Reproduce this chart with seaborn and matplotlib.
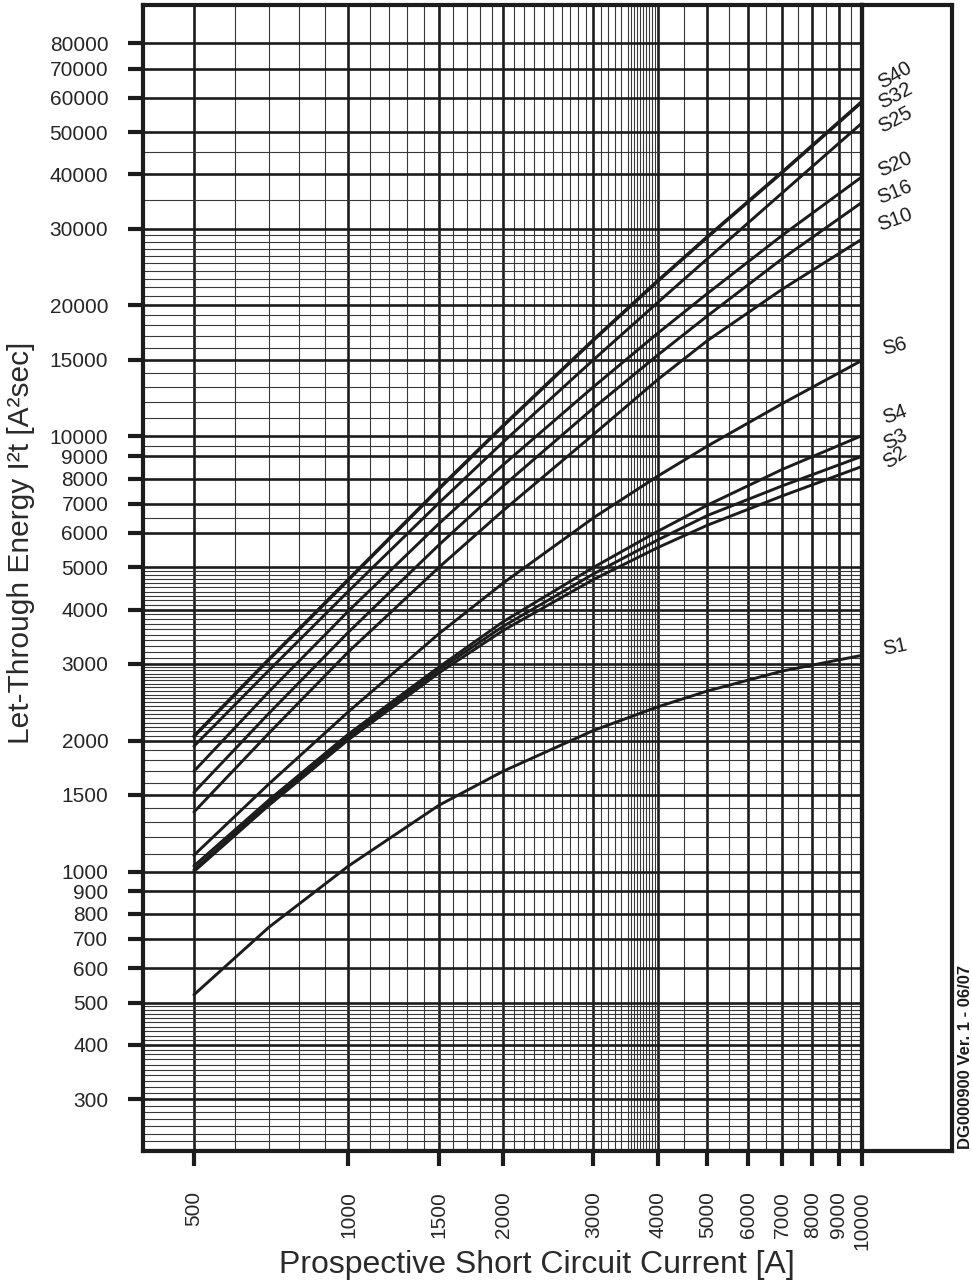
import numpy as np
import pandas as pd
import matplotlib
matplotlib.use("Agg")
import matplotlib.pyplot as plt
import seaborn as sns
from matplotlib.ticker import FixedLocator, NullFormatter

# prospective short circuit current [A]
current = [500, 700, 1000, 1500, 2000, 3000, 4000, 5000, 7000, 10000]

# let-through energy I2t [A2sec] per breaker rating
s40 = [2050, 3080, 4700, 7600, 10600, 16700, 22800, 28800, 40600, 58900]
s32 = [2040, 3065, 4675, 7560, 10550, 16620, 22690, 28660, 40400, 58600]
s25 = [1940, 2900, 4410, 7030, 9700, 15000, 20300, 25600, 36300, 52500]
s20 = [1700, 2590, 3970, 6300, 8600, 13000, 17250, 21300, 29000, 39500]
s16 = [1520, 2310, 3550, 5630, 7690, 11620, 15370, 18920, 25620, 34500]
s10 = [1370, 2080, 3200, 5000, 6750, 10100, 13500, 16600, 21800, 28400]
s6 = [1090, 1590, 2330, 3520, 4600, 6500, 8100, 9500, 11900, 14950]
s4 = [1030, 1460, 2070, 2950, 3750, 5000, 6050, 6950, 8400, 10040]
s3 = [1010, 1440, 2040, 2910, 3660, 4830, 5780, 6580, 7700, 9000]
s2 = [1000, 1420, 2010, 2860, 3580, 4690, 5550, 6250, 7300, 8530]
s1 = [521, 745, 1030, 1420, 1700, 2110, 2390, 2600, 2890, 3140]

breakers = ["S40", "S32", "S25", "S20", "S16", "S10", "S6", "S4", "S3", "S2", "S1"]
curves = [s40, s32, s25, s20, s16, s10, s6, s4, s3, s2, s1]

x_ticks = [500, 1000, 1500, 2000, 3000, 4000, 5000, 6000, 7000, 8000, 9000, 10000]
y_ticks = [300, 400, 500, 600, 700, 800, 900, 1000, 1500, 2000, 3000, 4000, 5000,
           6000, 7000, 8000, 9000, 10000, 15000, 20000, 30000, 40000, 50000,
           60000, 70000, 80000]

# label placement relative to the curve end (pixels) and text angle
label_dy = [26, 6, 3, 12, 10, 19, 14, 21, 17, 9, 8]
label_rot = [30, 28, 28, 25, 22, 20, 15, 20, 28, 35, 12]

# minor grid lines of the printed chart paper
x_minor = (list(range(600, 1000, 100)) + list(range(1100, 1500, 100))
           + list(range(1600, 3000, 100)) + list(range(3100, 3500, 100))
           + list(range(3500, 4000, 50)) + list(range(4500, 10000, 1000)))
x_minor = [v for v in x_minor if v not in x_ticks]
y_minor = (list(range(230, 500, 10)) + list(range(1100, 2000, 100))
           + list(range(2050, 3000, 50)) + list(range(3100, 5000, 100))
           + [6500, 9500] + list(range(11000, 20000, 1000))
           + list(range(21000, 30000, 1000)) + [35000, 45000])
y_minor = [v for v in y_minor if v not in y_ticks]

rows = []
for name, vals in zip(breakers, curves):
    for x, y in zip(current, vals):
        rows.append({"breaker": name, "current": x, "energy": y})
df = pd.DataFrame(rows)

sns.set_style("ticks")
plt.rcParams["font.family"] = ["Liberation Sans", "DejaVu Sans"]

fig = plt.figure(figsize=(9.72, 12.8), dpi=100)
W, H = 972, 1280
left, right, top, bottom = 143, 862, 5, 1151
ax = fig.add_axes([left / W, 1 - bottom / H, (right - left) / W, (bottom - top) / H])
ax.set_xscale("log")
ax.set_yscale("log")

sns.lineplot(data=df, x="current", y="energy", hue="breaker", hue_order=breakers,
             palette={b: "#1c1c1c" for b in breakers}, linewidth=2.1,
             legend=False, sort=True, ax=ax, zorder=5)

ax.set_xlim(398, 10000)
ax.set_ylim(228, 98000)

ax.xaxis.set_major_locator(FixedLocator(x_ticks))
ax.xaxis.set_minor_locator(FixedLocator(x_minor))
ax.yaxis.set_major_locator(FixedLocator(y_ticks))
ax.yaxis.set_minor_locator(FixedLocator(y_minor))
ax.set_xticklabels([str(v) for v in x_ticks], rotation=90, fontsize=15)
ax.set_yticklabels([str(v) for v in y_ticks], fontsize=15)
ax.xaxis.set_minor_formatter(NullFormatter())
ax.yaxis.set_minor_formatter(NullFormatter())

ax.tick_params(which="major", direction="out", length=11, width=3,
               color="#1c1c1c", pad=14, bottom=True, left=True,
               top=False, right=False)
ax.tick_params(axis="x", which="major", pad=18)
ax.tick_params(which="minor", length=0)

ax.grid(which="major", color="#1c1c1c", linewidth=1.9)
ax.grid(which="minor", color="#383838", linewidth=0.8)

for sp in ax.spines.values():
    sp.set_visible(True)
    sp.set_linewidth(3)
    sp.set_color("#1c1c1c")

ax.set_xlabel("Prospective Short Circuit Current [A]", fontsize=23, color="#2a2a2a")
ax.set_ylabel("Let-Through Energy I²t [A²sec]", fontsize=21.5, color="#2a2a2a")
ax.xaxis.set_label_coords(0.548, -0.086)
ax.yaxis.set_label_coords(-0.150, 0.531)

# curve names beside the right-hand end of each curve
for name, vals, dy, rot in zip(breakers, curves, label_dy, label_rot):
    ax.annotate(name, xy=(current[-1], vals[-1]), xytext=(33, dy),
                textcoords="offset pixels", ha="center", va="center",
                rotation=rot, fontsize=14.5, color="#1c1c1c",
                annotation_clip=False)

# blank side panel holding the labels
panel = fig.add_axes([right / W, 1 - bottom / H, (952 - right) / W, (bottom - top) / H])
panel.set_xticks([])
panel.set_yticks([])
panel.patch.set_alpha(0)
for sp in panel.spines.values():
    sp.set_linewidth(3)
    sp.set_color("#1c1c1c")

fig.text(965 / W, 1 - 1057 / H, "DG000900 Ver. 1 - 06/07", rotation=90,
         ha="center", va="center", fontsize=12, fontweight="bold", color="#1c1c1c")

fig.savefig("out.png", dpi=100)
plt.close(fig)
